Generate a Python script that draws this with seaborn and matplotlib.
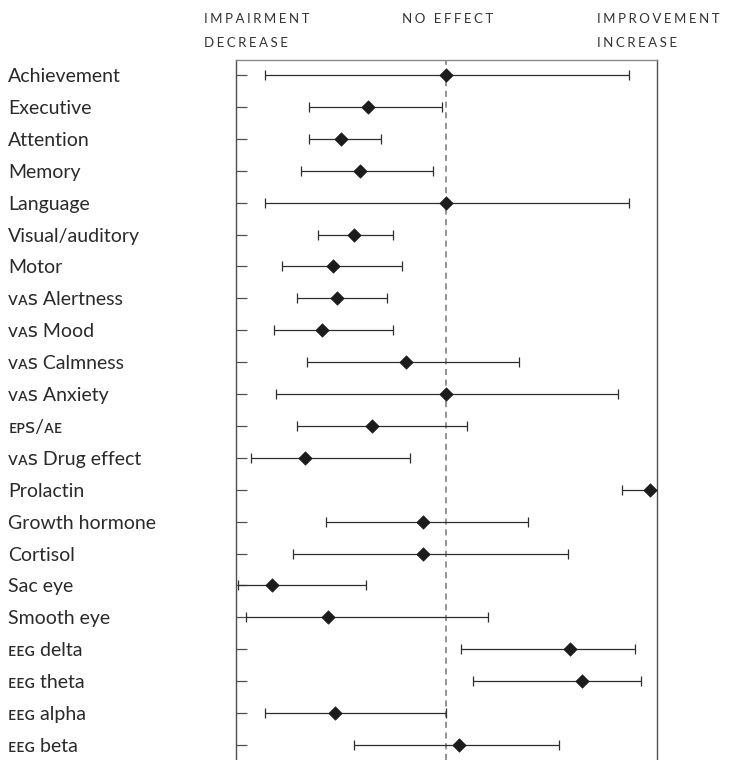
import matplotlib
matplotlib.use("Agg")
import matplotlib.pyplot as plt
import seaborn as sns
import pandas as pd
import numpy as np

# Outcome measures, top to bottom
measures = ["Achievement", "Executive", "Attention", "Memory", "Language",
            "Visual/auditory", "Motor", "ᴠᴀꜱ Alertness", "ᴠᴀꜱ Mood",
            "ᴠᴀꜱ Calmness", "ᴠᴀꜱ Anxiety", "ᴇᴘꜱ/ᴀᴇ", "ᴠᴀꜱ Drug effect",
            "Prolactin", "Growth hormone", "Cortisol", "Sac eye", "Smooth eye",
            "ᴇᴇɢ delta", "ᴇᴇɢ theta", "ᴇᴇɢ alpha", "ᴇᴇɢ beta"]

# Pooled effect and confidence limits (0 = no effect)
effect = [0.00, -0.37, -0.50, -0.41, 0.00, -0.44, -0.54, -0.52, -0.59,
          -0.19, 0.00, -0.35, -0.67, 0.97, -0.11, -0.11, -0.83, -0.56,
          0.59, 0.65, -0.53, 0.06]
ci_low = [-0.86, -0.65, -0.65, -0.69, -0.86, -0.61, -0.78, -0.71, -0.82,
          -0.66, -0.81, -0.71, -0.93, 0.84, -0.57, -0.73, -0.99, -0.95,
          0.07, 0.13, -0.86, -0.44]
ci_high = [0.87, -0.02, -0.31, -0.06, 0.87, -0.25, -0.21, -0.28, -0.25,
           0.35, 0.82, 0.10, -0.17, 1.15, 0.39, 0.58, -0.38, 0.20,
           0.90, 0.93, 0.00, 0.54]

header_left = ["IMPAIRMENT", "DECREASE"]
header_mid = "NO EFFECT"
header_right = ["IMPROVEMENT", "INCREASE"]

df = pd.DataFrame({"measure": measures, "effect": effect,
                   "low": ci_low, "high": ci_high})
df["row"] = np.arange(len(df))

sns.set_theme(style="white")
plt.rcParams["font.family"] = ["Lato", "DejaVu Sans"]

W, H = 731, 760
fig = plt.figure(figsize=(W / 100, H / 100), dpi=100)
ax = fig.add_axes([236 / W, 0, 421 / W, 700 / H])

line_col = "#2e2e2e"
frame_col = "#505050"

# confidence intervals
ax.errorbar(df["effect"], df["row"],
            xerr=[df["effect"] - df["low"], df["high"] - df["effect"]],
            fmt="none", ecolor=line_col, elinewidth=0.9,
            capsize=3.6, capthick=0.9, zorder=2)

# point estimates
sns.scatterplot(data=df, x="effect", y="row", marker="D", s=48,
                color="#1c1c1c", edgecolor="#1c1c1c", linewidth=0.4,
                ax=ax, zorder=3, legend=False)

# line of no effect
ax.axvline(0, color="#777777", lw=1.1, ls=(0, (4, 3)), zorder=1)

ax.set_xlim(-1.0, 1.005)
ax.set_ylim(len(df) - 0.53, -0.47)
ax.set_xticks([])
ax.set_xlabel("")
ax.set_ylabel("")
ax.set_yticks(df["row"], labels=df["measure"])
ax.tick_params(axis="y", direction="in", length=8, width=0.9,
               color=frame_col, pad=164, labelsize=14,
               labelcolor="#2a2a2a", left=True)
for lab in ax.get_yticklabels():
    lab.set_horizontalalignment("left")

for side in ["top", "left", "right"]:
    ax.spines[side].set_visible(True)
    ax.spines[side].set_color(frame_col)
    ax.spines[side].set_linewidth(1.0)
ax.spines["top"].set_color("#8a8a8a")
ax.spines["bottom"].set_visible(False)

# column headings above the plot
sp = "\u2009\u200a"
hdr = dict(fontsize=9.5, color="#333333", va="center")
def spaced(s):
    return sp.join(s)

fig.text(204 / W, 1 - 19 / H, spaced(header_left[0]), ha="left", **hdr)
fig.text(204 / W, 1 - 43 / H, spaced(header_left[1]), ha="left", **hdr)
fig.text(448 / W, 1 - 19 / H, spaced(header_mid), ha="center", **hdr)
fig.text(597 / W, 1 - 19 / H, spaced(header_right[0]), ha="left", **hdr)
fig.text(597 / W, 1 - 43 / H, spaced(header_right[1]), ha="left", **hdr)

fig.savefig("out.png", dpi=100)
